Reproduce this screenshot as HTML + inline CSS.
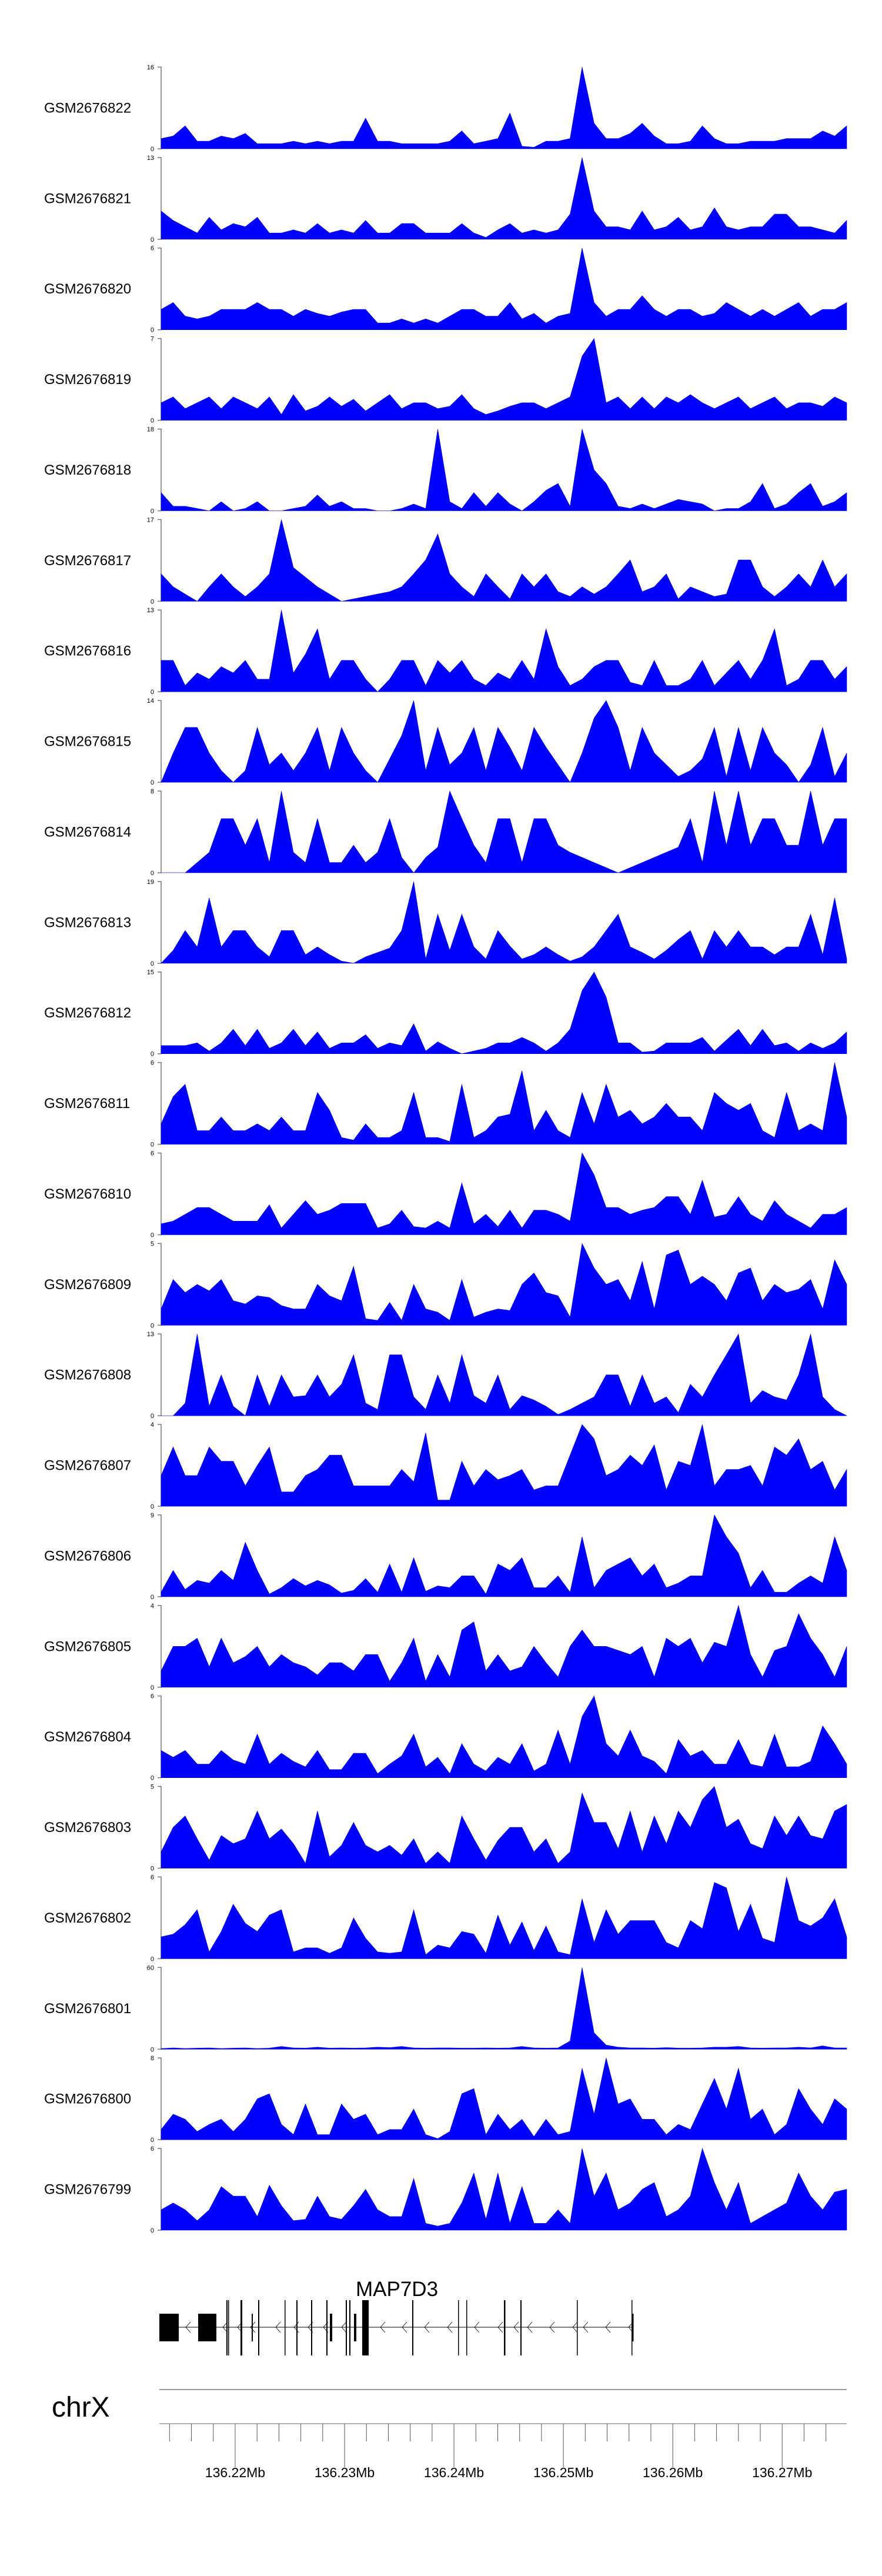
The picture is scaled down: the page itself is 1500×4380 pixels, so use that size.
<!DOCTYPE html>
<html><head><meta charset="utf-8"><style>
html,body{margin:0;padding:0;background:#fff;}
svg{display:block;font-family:"Liberation Sans",sans-serif;}
</style></head><body>
<svg id="fig" width="1500" height="4380" viewBox="0 0 1500 4380" xmlns="http://www.w3.org/2000/svg"></svg>
<script>
// ---- data ----
const sampleNames = ["GSM2676822","GSM2676821","GSM2676820","GSM2676819","GSM2676818","GSM2676817","GSM2676816","GSM2676815","GSM2676814","GSM2676813","GSM2676812","GSM2676811","GSM2676810","GSM2676809","GSM2676808","GSM2676807","GSM2676806","GSM2676805","GSM2676804","GSM2676803","GSM2676802","GSM2676801","GSM2676800","GSM2676799"];
const yMax = [16,13,6,7,18,17,13,14,8,19,15,6,6,5,13,4,9,4,6,5,6,60,8,6];
const s0 = [2,2.5,4.5,1.5,1.5,2.5,2,3,1,1,1,1.5,1,1.5,1,1.5,1.5,6,1.5,1.5,1,1,1,1,1.5,3.5,1,1.5,2,7,0.5,0.3,1.5,1.5,2,16,5,2,2,3,5,2.5,1,1,1.5,4.5,2,1,1,1.5,1.5,1.5,2,2,2,3.5,2.5,4.5];
const s1 = [4.5,3,2,1,3.5,1.5,2.5,2,3.5,1,1,1.5,1,2.5,1,1.5,1,3,1,1,2.5,2.5,1,1,1,2.5,1,0.3,1.5,2.5,1,1.5,1,1.5,4,13,4.5,2,2,1.5,4.5,1.5,2,3.5,1.5,2,5,2,1.5,2,2,4,4,2,2,1.5,1,3];
const s2 = [1.5,2,1,0.8,1,1.5,1.5,1.5,2,1.5,1.5,1,1.5,1.2,1,1.3,1.5,1.5,0.5,0.5,0.8,0.5,0.8,0.5,1,1.5,1.5,1,1,2,0.8,1.2,0.5,1,1.2,6,2,1,1.5,1.5,2.5,1.5,1,1.5,1.5,1,1.2,2,1.5,1,1.5,1,1.5,2,1,1.5,1.5,2];
const s3 = [1.5,2,1,1.5,2,1,2,1.5,1,2,0.5,2.2,0.8,1.2,2,1.2,1.8,0.8,1.5,2.2,1,1.5,1.5,1,1.2,2.2,1,0.5,0.8,1.2,1.5,1.5,1,1.5,2,5.5,7,1.5,2,1,2,1,2,1.5,2.2,1.5,1,1.5,2,1,1.5,2,1,1.5,1.5,1.2,2,1.5];
const s4 = [4,1,1,0.5,0,2,0,0.5,2,0,0,0.5,1,3.5,1,2,0.5,0.5,0,0,0.5,1.5,0.5,18,2,0.5,4,1,4,1.5,0,2,4.5,6,1,18,9,6,1,0.5,1.5,0.5,1.5,2.5,2,1.5,0,0.5,0.5,2,6,0.5,1.5,4,6,1,2,4];
const s5 = [5.7,3,1.5,0,3,5.7,3,1,3,5.7,17,7,5,3,1.5,0,0.5,1,1.5,2,3,5.7,8.6,14,5.7,3,1,5.7,3,0.5,5.7,3,5.7,2,1,3,1.5,3,5.7,8.6,2,3,5.7,0.5,3,2,1,1.5,8.6,8.6,3,1,3,5.7,3,8.6,3,5.7];
const s6 = [5,5,1,3,2,4,3,5,2,2,13,3,6,10,2,5,5,2,0,2,5,5,1,5,3,5,2,1,3,2,5,2,10,4,1,2,4,5,5,1.5,1,5,1,1,2,5,1,3,5,2,5,10,1,2,5,5,2,4];
const s7 = [0,5,9.4,9.4,5,2,0,2,9.4,3,5,2,5,9.4,2,9.4,5,2,0,4,8,14,2,9.4,3,5,9.4,2,9.4,6,2,9.4,6,3,0,5,11,14,9.4,2,9.4,5,3,1,2,4,9.4,1,9.4,2,9.4,5,3,0,3,9.4,1,5];
const s8 = [0,0,0,1,2,5.3,5.3,2.7,5.3,1,8,2,1,5.3,1,1,2.7,1,2,5.3,1.5,0,1.5,2.5,8,5.3,2.7,1,5.3,5.3,1,5.3,5.3,2.7,2,1.5,1,0.5,0,0.5,1,1.5,2,2.5,5.3,1,8,2.7,8,2.7,5.3,5.3,2.7,2.7,8,2.7,5.3,5.3];
const s9 = [0,3,7.6,3.8,15.2,3.8,7.6,7.6,3.8,1.5,7.6,7.6,2,3.8,2,0.5,0,1.5,2.5,3.5,7.6,19,1,11.4,3,11.4,3.8,1,7.6,4,1,2,3.8,2,0.5,1.5,3.8,7.6,11.4,3.8,2.5,1,3,5.5,7.6,1,7.6,3.8,7.6,3.8,3.8,2,3.8,3.8,11.4,2,15.2,1];
const s10 = [1.5,1.5,1.5,2,0.5,2,4.5,1.5,4.5,1,2,4.5,1.5,4,1,2,2,3.5,1,2,1.5,5.5,0.5,2.2,1,0,0.5,1,2,2,3,2,0.5,2,4.5,11.6,15,10.4,2,2,0.3,0.5,2,2,2,3,0.5,2.5,4.5,1.5,4.5,1.5,2,0.5,2,1,2,4];
const s11 = [1.5,3.5,4.4,1,1,2,1,1,1.5,1,2,1,1,3.8,2.5,0.5,0.3,1.5,0.5,0.5,1,3.8,0.5,0.5,0.2,4.4,0.5,1,2,2.2,5.4,1,2.5,1,0.5,3.8,1.5,4.4,2,2.5,1.5,2,3,2,2,1,3.8,3,2.5,3,1,0.5,3.8,1,1.5,1,6,2];
const s12 = [0.8,1,1.5,2,2,1.5,1,1,1,2.2,0.5,1.5,2.5,1.5,1.8,2.3,2.3,2.3,0.5,0.8,1.8,0.6,0.5,1,0.5,3.8,0.8,1.5,0.6,1.8,0.5,1.8,1.8,1.5,1,6,4.4,2,2,1.5,1.8,2,2.8,2.8,1.5,4,1.3,1.5,2.8,1.5,1,2.5,1.5,1,0.5,1.5,1.5,2];
const s13 = [1,2.8,2,2.5,2.1,2.8,1.5,1.3,1.8,1.7,1.2,1,1,2.5,1.8,1.5,3.6,0.4,0.3,1.4,0.3,2.5,1,0.8,0.3,2.8,0.5,0.8,1,0.9,2.5,3.2,2,1.8,0.5,5,3.5,2.5,2.8,1.5,3.9,1,4.3,4.6,2.5,3,2.5,1.5,3.2,3.5,1.5,2.5,2,2.2,2.8,1,4,2.5];
const s14 = [0,0,2,13,1.5,6.5,1.5,0,6.5,1.5,6.5,3,3.2,6.5,3,5,9.7,2,1,9.7,9.7,3,1,6.5,2,9.7,3.2,2,6.5,1,3.2,2.5,1.5,0.2,1,2,3,6.5,6.5,1.5,6.5,2,3,0.5,5,3,6.5,9.7,13,2,4,3,2.5,6.5,13,3,1,0];
const s15 = [1.5,2.9,1.5,1.5,2.9,2.2,2.2,1,2,2.9,0.7,0.7,1.5,1.8,2.5,2.5,1,1,1,1,1.8,1.2,3.6,0.3,0.3,2.2,1,1.8,1.3,1.5,1.8,0.8,1,1,2.5,4,3.3,1.5,1.8,2.5,2,3,0.8,2.2,2,4,1,1.8,1.8,2,1,2.9,2.5,3.3,1.8,2.2,0.8,1.8];
const s16 = [0.5,2.9,0.8,1.8,1.5,2.9,1.8,6,2.9,0.3,1,2,1.2,1.8,1.3,0.4,0.7,2,0.5,3.6,0.5,4.3,0.6,1.2,1,2.3,2.3,0.3,3.6,2.9,4.3,1,1,2.3,0.5,6.6,1,2.9,3.6,4.3,2.3,3.6,1,1.5,2.3,2.3,9,6.6,4.8,1,2.9,0.5,0.5,1.5,2.3,1.5,6.6,2.9];
const s17 = [0.8,2,2,2.4,1,2.4,1.2,1.5,2,1,1.6,1.2,1,0.6,1.2,1.2,0.8,1.6,1.6,0.3,1.2,2.4,0.3,1.6,0.5,2.8,3.2,0.8,1.6,0.8,1,2,1.2,0.5,2,2.8,2,2,1.8,1.6,2,0.5,2.4,2,2.4,1.2,2.2,2,4,1.6,0.5,1.8,2,3.6,2.4,1.6,0.5,2];
const s18 = [2,1.5,2,1,1,2,1.3,1,3.2,1,1.8,1.2,0.8,2,0.6,0.6,1.8,1.8,0.3,1,1.6,3.2,0.8,1.5,0.3,2.5,1,0.5,1.5,1,2.5,0.5,1,3.5,1,4.5,6,2.5,1.6,3.5,1.6,1.2,0.3,2.8,1.6,2,1,1,2.8,1,0.8,3.2,0.8,0.8,1.2,3.8,2.5,1];
const s19 = [1,2.5,3.2,1.8,0.5,2,1.5,1.8,3.5,1.8,2.4,1.5,0.3,3.5,0.7,1.4,2.8,1.4,1,1.4,0.8,1.8,0.3,1,0.3,3.2,1.8,0.5,1.7,2.5,2.5,1,1.8,0.3,1,4.6,2.8,2.8,1.2,3.5,1,3.2,1.5,3.5,2.5,4.2,5,2.5,3,1.5,1.2,3.2,2,3.2,2,1.8,3.5,3.9];
const s20 = [1.6,1.8,2.5,3.6,0.5,2,4,2.6,2,3.2,3.6,0.5,0.8,0.8,0.4,0.8,3,1.5,0.5,0.4,0.5,3.6,0.3,1,0.8,2,1.8,0.4,3.2,1,2.7,0.6,2.4,0.5,0.3,4.4,1.2,3.6,1.8,2.8,2.8,2.8,1.2,0.8,2.8,2.2,5.6,5.2,2,4,1.5,1.2,6,2.8,2.4,3,4.4,1.6];
const s21 = [0.5,1,0.5,0.8,1,0.5,0.8,1,0.5,0.8,2,1,0.8,1.5,0.8,1,0.8,1,1.5,1.2,2,1,0.8,1,1,0.8,0.8,1,0.8,1,2,1,0.8,1,6,60,12,3,1.5,1,1,0.8,1.2,0.8,0.8,1,1.5,1.5,2,1,0.8,1,1,1.5,1,2.5,1,1];
const s22 = [1,2.5,2,0.8,1.5,2,0.8,2,4,4.5,1.5,0.5,3.5,0.5,0.5,3.5,2,2.5,0.5,1,1,3,0.5,0.1,0.8,4.5,5,0.5,2.5,1,2,0.3,2,0.5,0.8,7,2.5,8,3.5,4,2,2,0.5,1.5,1,3.5,6,3,7,2,3,0.5,1.5,5,3,1.5,4,3];
const s23 = [1.5,2,1.5,0.7,1.5,3.2,2.5,2.5,1,3.3,1.8,0.7,0.8,2.5,1,0.8,1.8,3,1.5,1,1,3.8,0.5,0.3,0.5,2,4.2,0.8,4.2,0.5,3.2,0.5,0.5,1.5,0.5,6,2.5,4.2,1.5,2,3,3.5,1,1.5,2.5,6,3.5,1.5,3.5,0.5,1,1.5,2,4.2,2.5,1.5,2.8,3];
const seriesList = [s0,s1,s2,s3,s4,s5,s6,s7,s8,s9,s10,s11,s12,s13,s14,s15,s16,s17,s18,s19,s20,s21,s22,s23];
const axisStartMb = 136.21323, axisEndMb = 136.27590;
const majorTicksMb = [136.22,136.23,136.24,136.25,136.26,136.27];
const majorTickLabels = ["136.22Mb","136.23Mb","136.24Mb","136.25Mb","136.26Mb","136.27Mb"];

// ---- layout ----
const NS = "http://www.w3.org/2000/svg";
const svg = document.getElementById('fig');
const X0 = 274, X1 = 1440, TOP0 = 114, STEP = 153.87, H = 139;
function mk(tag, attrs, parent){const e=document.createElementNS(NS,tag);for(const k in attrs)e.setAttribute(k,attrs[k]);(parent||svg).appendChild(e);return e;}
function xScale(mb){return X0 + (mb-axisStartMb)/(axisEndMb-axisStartMb)*(X1-X0);}
function binMb(i,n){return axisStartMb + (axisEndMb-axisStartMb)*i/(n-1);}

seriesList.forEach((vals,t)=>{
  const top = TOP0 + t*STEP, base = top + H;
  const g = mk('g',{});
  
  
  const lab = mk('text',{x:75,y:top+H/2+8,'font-size':24,fill:'#000'},g);
  lab.textContent = sampleNames[t];
  
  
  const ax = mk('path',{d:`M268 ${top}H274V${base}H268`,stroke:'#777',fill:'none','stroke-width':1.5},g);
  
  
  const tMax = mk('text',{x:262,y:top+4,'font-size':11,'text-anchor':'end',fill:'#000'},g);
  tMax.textContent = yMax[t];
  
  
  const tMin = mk('text',{x:262,y:base+4,'font-size':11,'text-anchor':'end',fill:'#000'},g);
  tMin.textContent = '0';
  
  
  const n = vals.length;
  let d = `M${X0} ${base}`;
  vals.forEach((v,i)=>{ d += ` L${xScale(binMb(i,n)).toFixed(1)} ${(base - Math.min(v,yMax[t])/yMax[t]*H).toFixed(1)}`; });
  d += ` L${X1} ${base} Z`;
  const area = mk('path',{d:d,fill:'#0000ff',stroke:'#0000cc','stroke-width':0.6},g);
  
  
});

// gene model
const GY = 3957;
const gg = mk('g',{});


const gname = mk('text',{x:605,y:3904,'font-size':35,fill:'#000'},gg);
gname.textContent='MAP7D3';


mk('line',{x1:271,y1:GY,x2:1076,y2:GY,stroke:'#000','stroke-width':1},gg);
const chevrons=[316,379,404,426,469,500,524,550,581,647,684,722,761,807,847,874,897,935,974,992,1030,1069];
chevrons.forEach(c=>mk('polyline',{points:`${c+8},${GY-9} ${c},${GY} ${c+8},${GY+9}`,fill:'none',stroke:'#000','stroke-width':0.8},gg));
const bigBoxes=[[271,304],[337,368]];
bigBoxes.forEach(b=>mk('rect',{x:b[0],y:3934,width:b[1]-b[0],height:47,fill:'#000'},gg));
mk('rect',{x:616,y:3911,width:11,height:94,fill:'#000'},gg);
const tallLines=[[385,2],[388,1.5],[409,3],[439,2],[484,1.5],[504,2],[529,2],[555,2],[588,2],[594,2],[701,2],[779,1.5],[793,1.5],[857,2.5],[885,2],[981,1.5],[1074,1.5]];
tallLines.forEach(l=>mk('rect',{x:l[0],y:3911,width:l[1],height:94,fill:'#000'},gg));
const midLines=[[428,2],[561,4],[602,4],[1075,2.5]];
midLines.forEach(l=>mk('rect',{x:l[0],y:3934,width:l[1],height:47,fill:'#000'},gg));

// chromosome axis
const ag = mk('g',{});


mk('line',{x1:271,y1:4063,x2:1440,y2:4063,stroke:'#999','stroke-width':2},ag);
mk('line',{x1:271,y1:4121,x2:1440,y2:4121,stroke:'#999','stroke-width':1.5},ag);
const chr = mk('text',{x:88,y:4109,'font-size':48,fill:'#000'},ag);
chr.textContent='chrX';


for(let k=0;k<31;k++){
  const mb = 136.214 + k*0.002;
  if(mb>axisEndMb) break;
  const x = xScale(mb);
  const major = majorTicksMb.some(m=>Math.abs(m-mb)<1e-6);
  mk('line',{x1:x,y1:4121,x2:x,y2:major?4195:4151,stroke:'#555','stroke-width':1},ag);
}
majorTicksMb.forEach((m,i)=>{
  const t = mk('text',{x:xScale(m),y:4212,'font-size':23,'text-anchor':'middle',fill:'#000'},ag);
  t.textContent = majorTickLabels[i];
  
  
});
</script>
</body></html>
